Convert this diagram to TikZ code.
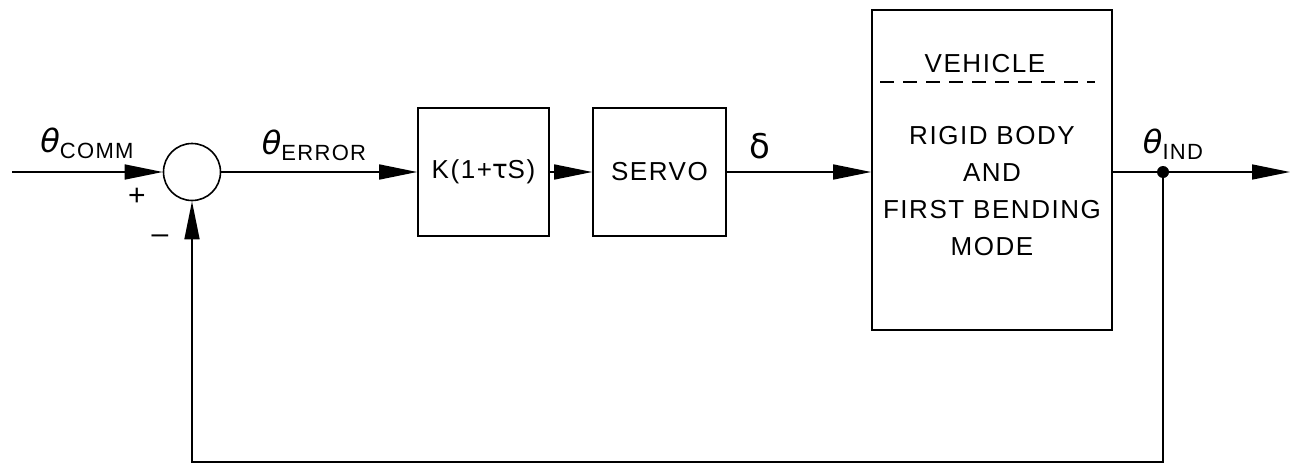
\documentclass[tikz,border=0pt]{standalone}
\usepackage{fontspec}
\setmainfont[LetterSpace=6]{Liberation Sans}
\newfontfamily\greekfont{DejaVu Sans}
\usetikzlibrary{arrows.meta}
\newcommand{\thsym}{{\greekfont\itshape\fontsize{32}{34}\selectfont θ}}
\begin{document}
\begin{tikzpicture}[x=1pt,y=-1pt,
  every node/.style={font=\fontsize{26}{37}\selectfont},
  conn/.style={line width=1.6pt},
  arr/.style={conn,-{Triangle[length=38pt,width=15pt]}},
  blk/.style={draw,line width=1.6pt,rectangle,inner sep=0pt},
  lbl/.style={font=\fontsize{22}{24}\selectfont,inner sep=0pt},
  sign/.style={font=\fontsize{30}{32}\selectfont,inner sep=0pt}]
\useasboundingbox (0,0) rectangle (1294,471);
\node[draw,circle,line width=1.6pt,minimum size=57pt,inner sep=0pt] (sum) at (192,172) {};
\node[blk,minimum width=131pt,minimum height=128pt] (kbox) at (483.5,172) {K(1+{\greekfont τ}S)};
\node[blk,minimum width=133pt,minimum height=128pt] (servo) at (659.5,172) {SERVO};
\node[blk,minimum width=240pt,minimum height=320pt] (veh) at (992,170) {};
\node (vtitle) at (985,64) {VEHICLE};
\draw[line width=1.4pt,dash pattern=on 14pt off 9pt] (880,82) coordinate (dl) -- (1095,82) coordinate (dr);
\node[align=center] (vtext) at (992,191) {RIGID BODY\\AND\\FIRST BENDING\\MODE};
\coordinate (in) at (12,172);
\coordinate (out) at (1290,172);
\coordinate (jn) at (1163,172);
\coordinate (bot) at (1163,462);
\fill (jn) circle (6pt);
\draw[arr] (in) -- (sum.west);
\draw[arr] (sum.east) -- (kbox.west);
\draw[arr] (kbox.east) -- (servo.west);
\draw[arr] (servo.east) -- (veh.west|-servo.east);
\draw[conn] (veh.east|-jn) -- (jn);
\draw[arr] (jn) -- (out);
\draw[arr] (jn) -- (bot) -| (sum.south);
\node[lbl] (lcomm) at (87,143) {\thsym\raisebox{-6pt}{COMM}};
\node[lbl] (lerr) at (314,145) {\thsym\raisebox{-6pt}{ERROR}};
\node[lbl,font=\fontsize{34}{36}\selectfont] (ldelta) at (760,146) {\greekfont δ};
\node[lbl] (lind) at (1173,144) {\thsym\raisebox{-6pt}{IND}};
\node[sign] (plus) at (137,197) {+};
\node[sign] (minus) at (160,239) {--};
\end{tikzpicture}
\end{document}
